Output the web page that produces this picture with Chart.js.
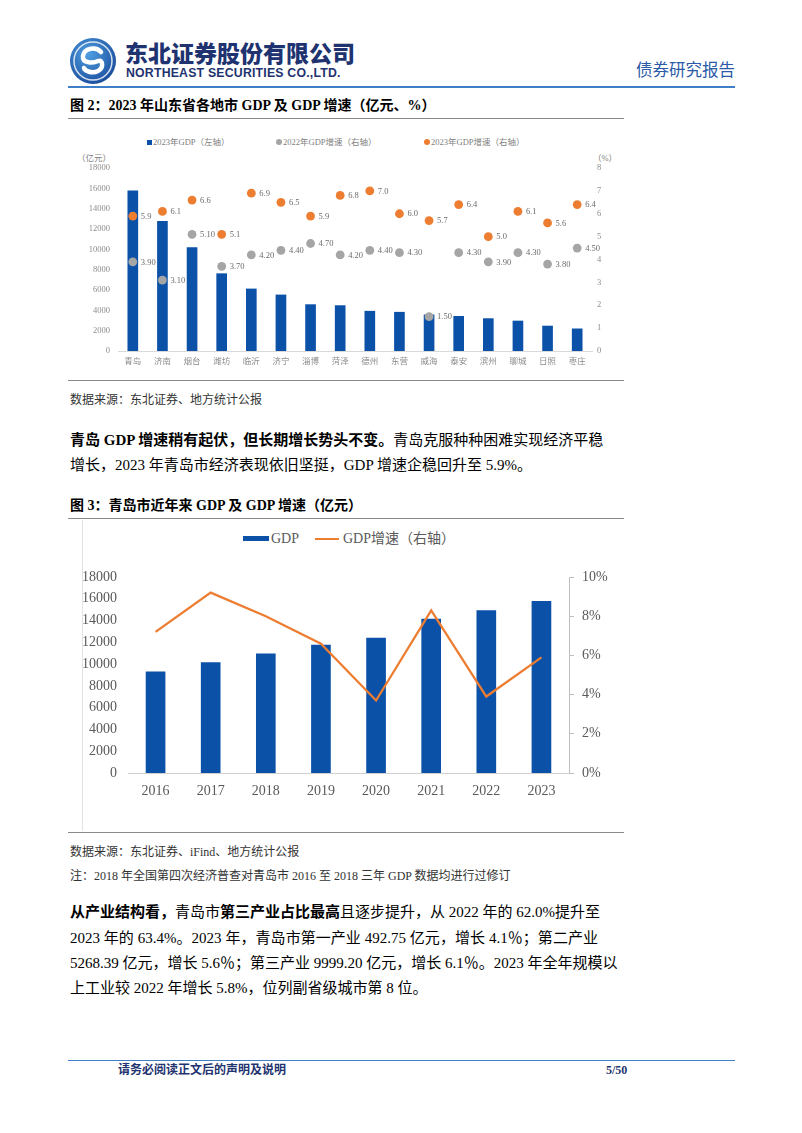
<!DOCTYPE html>
<html>
<head>
<meta charset="utf-8">
<script src="https://cdn.jsdelivr.net/npm/chart.js@4.4.1/dist/chart.umd.min.js"></script>
<style>
  body { margin: 0; background: #fff; }
  #page { position: relative; width: 802px; height: 1133px; overflow: hidden; background: #fff;
          font-family: "Liberation Serif", "Noto Sans CJK SC", serif; color: #000; }
  .t { position: absolute; white-space: nowrap; line-height: 20px; }
  .hr { position: absolute; height: 0; }
  .just { width: 528px; text-align: justify; text-align-last: justify; }
  .body { font-size: 15px; }
  .src { font-size: 12px; color: #333; }
  .ttl { font-size: 14px; font-weight: bold; }
  .leg { position: absolute; white-space: nowrap; color: #7f7f7f; font-size: 8.5px; line-height: 10px; }
  canvas { position: absolute; }
</style>
</head>
<body>
<div id="page">
  <!-- header -->
  <svg style="position:absolute;left:69px;top:37px" width="48" height="48" viewBox="0 0 48 48">
    <defs>
      <radialGradient id="lg" cx="40%" cy="35%" r="70%">
        <stop offset="0" stop-color="#4f9fe2"/>
        <stop offset="1" stop-color="#1a4c9c"/>
      </radialGradient>
    </defs>
    <circle cx="24" cy="24" r="23" fill="url(#lg)"/>
    <circle cx="24" cy="24" r="19" fill="none" stroke="#fff" stroke-width="1.5" opacity="0.8"/>
    <path d="M32 15 C27 9 15 11 14 19 C13 27 25 26 29 24 C34 22 35 31 29 34 C23 37 16 34 15 31" fill="none" stroke="#fff" stroke-width="4.5" stroke-linecap="round"/>
  </svg>
  <div class="t" style="left:125px;top:40px;font-family:'Noto Sans CJK SC';font-weight:900;font-size:23px;line-height:24px;color:#1e3370;">东北证券股份有限公司</div>
  <div class="t" style="left:126px;top:66px;font-family:'Liberation Sans';font-weight:bold;font-size:12.3px;line-height:14px;color:#1e3370;letter-spacing:0.2px;">NORTHEAST SECURITIES CO.,LTD.</div>
  <div class="t" style="left:636px;top:61px;font-size:16.5px;color:#2a5aa8;">债券研究报告</div>
  <div class="hr" style="left:68px;top:86px;width:667px;border-top:2px solid #3f7fc8;"></div>

  <!-- figure 2 -->
  <div class="t ttl" style="left:70px;top:96px;">图 2：2023 年山东省各地市 GDP 及 GDP 增速（亿元、%）</div>
  <div class="hr" style="left:68px;top:118px;width:556px;border-top:1.5px solid #8a8a8a;"></div>

  <div class="leg" style="left:147px;top:137px;"><span style="display:inline-block;width:5px;height:5px;background:#0c51a8;margin-right:1px;"></span>2023年GDP（左轴）</div>
  <div class="leg" style="left:276px;top:137px;"><span style="display:inline-block;width:6px;height:6px;border-radius:3px;background:#a5a5a5;margin-right:1px;"></span>2022年GDP增速（右轴）</div>
  <div class="leg" style="left:424px;top:137px;"><span style="display:inline-block;width:6px;height:6px;border-radius:3px;background:#ed7d31;margin-right:1px;"></span>2023年GDP增速（右轴）</div>
  <div class="leg" style="left:77px;top:153px;">（亿元）</div>
  <div class="leg" style="left:593px;top:153px;">（%）</div>
  <canvas id="c1" width="557" height="260" style="left:68px;top:120px;width:557px;height:260px;"></canvas>

  <div class="hr" style="left:68px;top:380px;width:556px;border-top:1.5px solid #8a8a8a;"></div>
  <div class="t src" style="left:70px;top:390px;">数据来源：东北证券、地方统计公报</div>

  <div class="t body just" style="left:70px;top:430px;"><b>青岛 GDP 增速稍有起伏，但长期增长势头不变。</b>青岛克服种种困难实现经济平稳</div>
  <div class="t body" style="left:70px;top:455px;">增长，2023 年青岛市经济表现依旧坚挺，GDP 增速企稳回升至 5.9%。</div>

  <!-- figure 3 -->
  <div class="t ttl" style="left:70px;top:496px;">图 3：青岛市近年来 GDP 及 GDP 增速（亿元）</div>
  <div class="hr" style="left:68px;top:518px;width:556px;border-top:1.5px solid #8a8a8a;"></div>
  <div style="position:absolute;left:82px;top:520px;width:0;height:311px;border-left:1px solid #e3e3e3;"></div>

  <div class="t" style="left:243px;top:529px;font-size:14px;color:#595959;"><span style="display:inline-block;width:26px;height:5px;background:#0c51a8;vertical-align:middle;margin-right:2px;position:relative;top:-1px;"></span>GDP</div>
  <div class="t" style="left:315px;top:529px;font-size:14px;color:#595959;"><span style="display:inline-block;width:24px;height:2px;background:#ed7d31;vertical-align:middle;margin-right:4px;position:relative;top:-1px;"></span>GDP增速（右轴）</div>
  <canvas id="c2" width="557" height="312" style="left:68px;top:520px;width:557px;height:312px;"></canvas>

  <div class="hr" style="left:68px;top:832px;width:556px;border-top:1.5px solid #8a8a8a;"></div>
  <div class="t src" style="left:70px;top:842px;">数据来源：东北证券、iFind、地方统计公报</div>
  <div class="t src" style="left:70px;top:866px;">注：2018 年全国第四次经济普查对青岛市 2016 至 2018 三年 GDP 数据均进行过修订</div>

  <div class="t body just" style="left:70px;top:902px;"><b>从产业结构看，</b>青岛市<b>第三产业占比最高</b>且逐步提升，从 2022 年的 62.0%提升至</div>
  <div class="t body just" style="left:70px;top:928px;">2023 年的 63.4%。2023 年，青岛市第一产业 492.75 亿元，增长 4.1％；第二产业</div>
  <div class="t body just" style="left:70px;top:953px;">5268.39 亿元，增长 5.6％；第三产业 9999.20 亿元，增长 6.1％。2023 年全年规模以</div>
  <div class="t body" style="left:70px;top:978px;">上工业较 2022 年增长 5.8%，位列副省级城市第 8 位。</div>

  <!-- footer -->
  <div class="hr" style="left:68px;top:1060px;width:667px;border-top:1.5px solid #3f7fc8;"></div>
  <div class="t" style="left:118px;top:1060px;font-size:12px;font-weight:bold;color:#1e3370;">请务必阅读正文后的声明及说明</div>
  <div class="t" style="left:606px;top:1060px;font-size:12px;font-weight:bold;color:#1e3370;">5/50</div>
</div>

<script>
// 图2：山东各地市
const cities = ['青岛', '济南', '烟台', '潍坊', '临沂', '济宁', '淄博', '菏泽', '德州', '东营', '威海', '泰安', '滨州', '聊城', '日照', '枣庄'];
const gdp2023 = [15760, 12757, 10163, 7606, 6105, 5516, 4561, 4465, 3915, 3815, 3551, 3412, 3186, 2950, 2455, 2180];
const growth2022 = [3.9, 3.1, 5.1, 3.7, 4.2, 4.4, 4.7, 4.2, 4.4, 4.3, 1.5, 4.3, 3.9, 4.3, 3.8, 4.5];
const growth2023 = [5.9, 6.1, 6.6, 5.1, 6.9, 6.5, 5.9, 6.8, 7.0, 6.0, 5.7, 6.4, 5.0, 6.1, 5.6, 6.4];
const cityGdpTicks = [0, 2000, 4000, 6000, 8000, 10000, 12000, 14000, 16000, 18000];
const cityRateTicks = [0, 1, 2, 3, 4, 5, 6, 7, 8];

// 图3：青岛历年
const years = ['2016', '2017', '2018', '2019', '2020', '2021', '2022', '2023'];
const qdGdp = [9300, 10140, 10950, 11740, 12400, 14140, 14920, 15760];
const qdRate = [7.2, 9.2, 8.0, 6.6, 3.7, 8.3, 3.9, 5.9];
const qdGdpTicks = [0, 2000, 4000, 6000, 8000, 10000, 12000, 14000, 16000, 18000];
const qdRateTicks = [0, 2, 4, 6, 8, 10];

const serif = '"Liberation Serif", "Noto Sans CJK SC", serif';
const blue = '#0c51a8';
const orange = '#ed7d31';
const grey = '#a5a5a5';

Chart.defaults.animation = false;
Chart.defaults.plugins.legend.display = false;
Chart.defaults.plugins.tooltip.enabled = false;

// 散点旁边的数值
const pointLabels = {
    id: 'pointLabels',
    afterDatasetsDraw(chart) {
        const ctx = chart.ctx;
        ctx.save();
        ctx.font = '8.5px ' + serif;
        ctx.fillStyle = '#6b6b6b';
        ctx.textBaseline = 'middle';
        chart.data.datasets.forEach((ds, i) => {
            if (!ds.labelDigits) return;
            chart.getDatasetMeta(i).data.forEach((pt, j) => {
                ctx.fillText(ds.data[j].toFixed(ds.labelDigits), pt.x + 8, pt.y + 0.5);
            });
        });
        ctx.restore();
    }
};

new Chart(document.getElementById('c1').getContext('2d'), {
    type: 'bar',
    data: {
        labels: cities,
        datasets: [{
            type: 'line',
            data: growth2023,
            yAxisID: 'y1',
            showLine: false,
            pointRadius: 4.4,
            pointBackgroundColor: orange,
            pointBorderWidth: 0,
            labelDigits: 1,
            order: 1
        }, {
            type: 'line',
            data: growth2022,
            yAxisID: 'y1',
            showLine: false,
            pointRadius: 4.4,
            pointBackgroundColor: grey,
            pointBorderWidth: 0,
            labelDigits: 2,
            order: 2
        }, {
            data: gdp2023,
            yAxisID: 'y',
            backgroundColor: blue,
            barThickness: 10,
            order: 5
        }]
    },
    options: {
        responsive: false,
        devicePixelRatio: 1,
        layout: { padding: { top: 48, left: 0, right: 0, bottom: 0 } },
        scales: {
            x: {
                offset: true,
                grid: { display: false, drawTicks: false },
                border: { display: true, color: '#d9d9d9', width: 1 },
                ticks: { color: '#8c8c8c', font: { size: 8.5, family: serif }, padding: 6, maxRotation: 0, autoSkip: false },
                afterFit: s => { s.height = 29; }
            },
            y: {
                position: 'left',
                min: cityGdpTicks[0],
                max: cityGdpTicks[cityGdpTicks.length - 1],
                grid: { display: false, drawTicks: false },
                border: { display: false },
                ticks: { stepSize: cityGdpTicks[1] - cityGdpTicks[0], color: '#8c8c8c', font: { size: 8.5, family: serif }, padding: 8,
                         callback: v => String(v) },
                afterFit: s => { s.width = 50; }
            },
            y1: {
                position: 'right',
                min: cityRateTicks[0],
                max: cityRateTicks[cityRateTicks.length - 1],
                grid: { display: false, drawTicks: false },
                border: { display: false },
                ticks: { stepSize: 1, color: '#8c8c8c', font: { size: 8.5, family: serif }, padding: 5 },
                afterFit: s => { s.width = 33; }
            }
        }
    },
    plugins: [pointLabels]
});

new Chart(document.getElementById('c2').getContext('2d'), {
    type: 'bar',
    data: {
        labels: years,
        datasets: [{
            type: 'line',
            data: qdRate,
            yAxisID: 'y1',
            borderColor: orange,
            borderWidth: 2.3,
            pointRadius: 0,
            tension: 0,
            order: 1
        }, {
            data: qdGdp,
            yAxisID: 'y',
            backgroundColor: blue,
            barThickness: 19,
            order: 2
        }]
    },
    options: {
        responsive: false,
        devicePixelRatio: 1,
        layout: { padding: { top: 57, left: 0, right: 0, bottom: 0 } },
        scales: {
            x: {
                offset: true,
                grid: { display: false, drawTicks: false },
                border: { display: true, color: '#d0d0d0', width: 1 },
                ticks: { color: '#595959', font: { size: 14, family: serif }, padding: 10, maxRotation: 0 },
                afterFit: s => { s.height = 59; }
            },
            y: {
                position: 'left',
                min: qdGdpTicks[0],
                max: qdGdpTicks[qdGdpTicks.length - 1],
                grid: { display: false, drawTicks: false },
                border: { display: false },
                ticks: { stepSize: qdGdpTicks[1] - qdGdpTicks[0], color: '#595959', font: { size: 14, family: serif }, padding: 11,
                         callback: v => String(v) },
                afterFit: s => { s.width = 60; }
            },
            y1: {
                position: 'right',
                min: qdRateTicks[0],
                max: qdRateTicks[qdRateTicks.length - 1],
                grid: { display: true, drawOnChartArea: false, drawTicks: true, tickLength: 5, color: '#bfbfbf' },
                border: { display: true, color: '#bfbfbf', width: 1 },
                ticks: { stepSize: qdRateTicks[1] - qdRateTicks[0], color: '#595959', font: { size: 14, family: serif }, padding: 8,
                         callback: v => v + '%' },
                afterFit: s => { s.width = 56; }
            }
        }
    }
});
</script>
</body>
</html>
